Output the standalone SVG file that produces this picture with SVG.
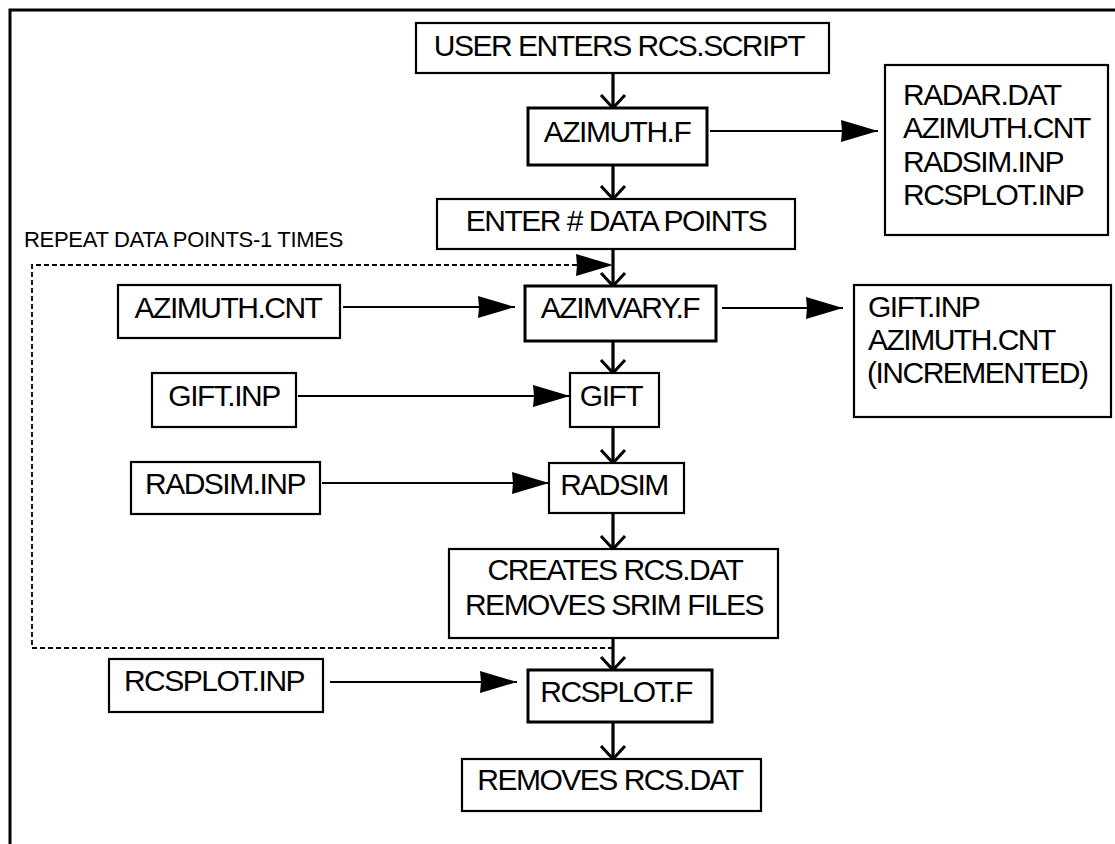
<svg xmlns="http://www.w3.org/2000/svg" width="1115" height="844" viewBox="0 0 1115 844">
<style>
.box{fill:#fff;stroke:#000;stroke-width:2.2}
.bold{stroke-width:3}
.t{font-family:"Liberation Sans",Arial,sans-serif;font-size:30px;letter-spacing:-1.5px;fill:#000}
.m{text-anchor:middle}
.small{font-size:22px;letter-spacing:-0.3px}
.v{stroke:#000;stroke-width:3.2;fill:none}
.h{stroke:#000;stroke-width:2.2;fill:none}
.d{stroke:#000;stroke-width:1.8;fill:none;stroke-dasharray:5 3}
</style>
<defs>
<marker id="tri" markerUnits="userSpaceOnUse" markerWidth="40" markerHeight="24" refX="37" refY="11" orient="auto" overflow="visible">
<path d="M0,0 L37,11 L0,22 L1,11 Z" fill="#000"/>
</marker>
<marker id="vee" markerUnits="userSpaceOnUse" markerWidth="20" markerHeight="30" refX="13" refY="12" orient="auto" overflow="visible">
<path d="M0,0 L13,12 L0,24" fill="none" stroke="#000" stroke-width="3"/>
</marker>
</defs>
<rect width="1115" height="844" fill="#fff"/>
<g id="frame">
<path d="M10,844 L10,10 L1115,10" fill="none" stroke="#000" stroke-width="3"/>
</g>
<g id="connectors">
<line class="v" x1="613" y1="73" x2="613" y2="108" marker-end="url(#vee)"/>
<line class="v" x1="613" y1="165" x2="613" y2="199" marker-end="url(#vee)"/>
<line class="v" x1="613" y1="249" x2="613" y2="286" marker-end="url(#vee)"/>
<line class="v" x1="613" y1="341" x2="613" y2="373" marker-end="url(#vee)"/>
<line class="v" x1="613" y1="427" x2="613" y2="463" marker-end="url(#vee)"/>
<line class="v" x1="613" y1="513" x2="613" y2="549" marker-end="url(#vee)"/>
<line class="v" x1="613" y1="638" x2="613" y2="670" marker-end="url(#vee)"/>
<line class="v" x1="613" y1="722" x2="613" y2="759" marker-end="url(#vee)"/>
<line class="h" x1="710" y1="131" x2="878" y2="131" marker-end="url(#tri)"/>
<line class="h" x1="343" y1="307" x2="515" y2="307" marker-end="url(#tri)"/>
<line class="h" x1="722" y1="308" x2="843" y2="308" marker-end="url(#tri)"/>
<line class="h" x1="298" y1="396" x2="570" y2="396" marker-end="url(#tri)"/>
<line class="h" x1="322" y1="483" x2="549" y2="483" marker-end="url(#tri)"/>
<line class="h" x1="330" y1="682" x2="517" y2="682" marker-end="url(#tri)"/>
<path class="d" d="M613,648 L32,648 L32,265 L613,265" marker-end="url(#tri)"/>
</g>
<g id="loop-label">
<text class="t small" x="24" y="247">REPEAT DATA POINTS-1 TIMES</text>
</g>
<g id="user-enters">
<rect class="box" x="416" y="23" width="413" height="50"/>
<text class="t m" x="619" y="56">USER ENTERS RCS.SCRIPT</text>
</g>
<g id="azimuth-f">
<rect class="box bold" x="528" y="108" width="179" height="57"/>
<text class="t m" x="617" y="142">AZIMUTH.F</text>
</g>
<g id="azimuth-outputs">
<rect class="box" x="885" y="65" width="223" height="170"/>
<text class="t" x="903" y="105">RADAR.DAT</text>
<text class="t" x="903" y="138">AZIMUTH.CNT</text>
<text class="t" x="903" y="172">RADSIM.INP</text>
<text class="t" x="903" y="205">RCSPLOT.INP</text>
</g>
<g id="enter-points">
<rect class="box" x="437" y="199" width="358" height="50"/>
<text class="t m" x="616" y="231">ENTER # DATA POINTS</text>
</g>
<g id="azimuth-cnt">
<rect class="box" x="118" y="285" width="222" height="53"/>
<text class="t m" x="228" y="318">AZIMUTH.CNT</text>
</g>
<g id="azimvary-f">
<rect class="box bold" x="525" y="286" width="191" height="55"/>
<text class="t m" x="620" y="318">AZIMVARY.F</text>
</g>
<g id="azimvary-outputs">
<rect class="box" x="854" y="285" width="257" height="132"/>
<text class="t" x="868" y="317">GIFT.INP</text>
<text class="t" x="868" y="350">AZIMUTH.CNT</text>
<text class="t" x="867" y="383">(INCREMENTED)</text>
</g>
<g id="gift-inp">
<rect class="box" x="152" y="373" width="144" height="54"/>
<text class="t m" x="224" y="406">GIFT.INP</text>
</g>
<g id="gift">
<rect class="box" x="570" y="373" width="89" height="54"/>
<text class="t m" x="611" y="406">GIFT</text>
</g>
<g id="radsim-inp">
<rect class="box" x="131" y="462" width="189" height="52"/>
<text class="t m" x="225" y="494">RADSIM.INP</text>
</g>
<g id="radsim">
<rect class="box" x="549" y="463" width="135" height="50"/>
<text class="t m" x="614" y="495">RADSIM</text>
</g>
<g id="creates">
<rect class="box" x="449" y="549" width="329" height="89"/>
<text class="t m" x="615" y="580">CREATES RCS.DAT</text>
<text class="t m" x="614" y="615">REMOVES SRIM FILES</text>
</g>
<g id="rcsplot-inp">
<rect class="box" x="109" y="659" width="214" height="53"/>
<text class="t m" x="214" y="691">RCSPLOT.INP</text>
</g>
<g id="rcsplot-f">
<rect class="box bold" x="528" y="670" width="184" height="52"/>
<text class="t m" x="616" y="702">RCSPLOT.F</text>
</g>
<g id="removes-rcs">
<rect class="box" x="462" y="759" width="299" height="52"/>
<text class="t m" x="610" y="790">REMOVES RCS.DAT</text>
</g>
</svg>
